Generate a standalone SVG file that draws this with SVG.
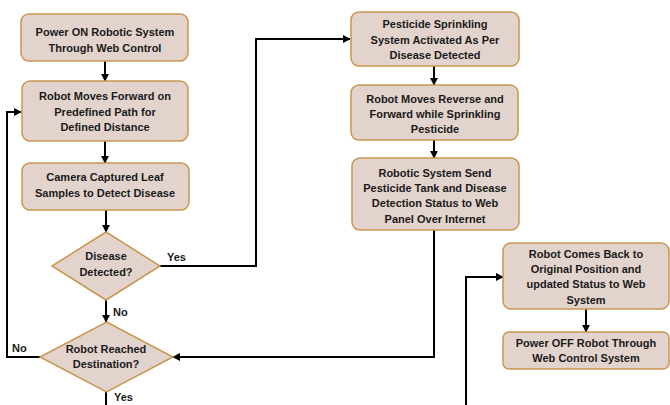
<svg xmlns="http://www.w3.org/2000/svg" width="670" height="405" viewBox="0 0 670 405">
<defs>
<marker id="ah" viewBox="0 0 10 10" refX="9" refY="5" markerWidth="4" markerHeight="4" orient="auto" markerUnits="strokeWidth">
<path d="M0,0 L10,5 L0,10 z" fill="#000"/>
</marker>
<style>
.box{fill:#e3d3cd;stroke:#c8964f;stroke-width:1.5}
.t{font-family:"Liberation Sans",Arial,sans-serif;font-weight:bold;font-size:11px;fill:#1a1a1a;text-anchor:middle}
.l{font-family:"Liberation Sans",Arial,sans-serif;font-weight:bold;font-size:11px;fill:#1a1a1a}
.c{fill:none;stroke:#000;stroke-width:2;marker-end:url(#ah)}
.cn{fill:none;stroke:#000;stroke-width:2}
</style>
</defs>
<rect width="670" height="405" fill="#fff"/>
<g id="connectors">
<path class="c" d="M105,61 V81"/>
<path class="c" d="M105,141 V163"/>
<path class="c" d="M106,210 V232"/>
<path class="c" d="M106,300 V322"/>
<path class="c" d="M160,266 H256 V39 H350"/>
<path class="c" d="M434,66 V85"/>
<path class="c" d="M434,140 V158"/>
<path class="c" d="M434,230 V357 H173"/>
<path class="c" d="M40,357 H7 V112 H21"/>
<path class="cn" d="M106,392 V405"/>
<path class="c" d="M466,405 V277 H503"/>
<path class="c" d="M586,309 V332"/>
</g>
<g id="labels">
<text class="l" x="167" y="261">Yes</text>
<text class="l" x="113" y="316">No</text>
<text class="l" x="12" y="352">No</text>
<text class="l" x="114" y="401">Yes</text>
</g>
<g id="n1">
<rect class="box" x="21" y="14" width="167" height="47" rx="8"/>
<text class="t" x="105" y="36">Power ON Robotic System</text>
<text class="t" x="105" y="52">Through  Web Control</text>
</g>
<g id="n2">
<rect class="box" x="22" y="81" width="166" height="60" rx="8"/>
<text class="t" x="105" y="100">Robot Moves Forward on</text>
<text class="t" x="105" y="116">Predefined Path for</text>
<text class="t" x="105" y="131">Defined Distance</text>
</g>
<g id="n3">
<rect class="box" x="22" y="163" width="167" height="47" rx="8"/>
<text class="t" x="105" y="181">Camera Captured  Leaf</text>
<text class="t" x="105" y="197">Samples to Detect Disease</text>
</g>
<g id="d1">
<path class="box" d="M106,232 L160,266 L106,300 L52,266 Z"/>
<text class="t" x="106" y="260">Disease</text>
<text class="t" x="106" y="276">Detected?</text>
</g>
<g id="d2">
<path class="box" d="M106.5,322 L173,357 L106.5,392 L40,357 Z"/>
<text class="t" x="106" y="353">Robot Reached</text>
<text class="t" x="106" y="368">Destination?</text>
</g>
<g id="n4">
<rect class="box" x="351" y="12" width="168" height="54" rx="8"/>
<text class="t" x="435" y="28">Pesticide Sprinkling</text>
<text class="t" x="435" y="44">System Activated As Per</text>
<text class="t" x="435" y="59">Disease Detected</text>
</g>
<g id="n5">
<rect class="box" x="351" y="85" width="167" height="55" rx="8"/>
<text class="t" x="435" y="103">Robot Moves Reverse and</text>
<text class="t" x="435" y="118">Forward while Sprinkling</text>
<text class="t" x="435" y="133">Pesticide</text>
</g>
<g id="n6">
<rect class="box" x="352" y="158" width="167" height="72" rx="8"/>
<text class="t" x="435" y="177">Robotic System Send</text>
<text class="t" x="435" y="192">Pesticide Tank and Disease</text>
<text class="t" x="435" y="207">Detection Status to Web</text>
<text class="t" x="435" y="223">Panel Over Internet</text>
</g>
<g id="n7">
<rect class="box" x="503" y="243" width="166" height="66" rx="8"/>
<text class="t" x="586" y="258">Robot Comes Back to</text>
<text class="t" x="586" y="273">Original  Position  and</text>
<text class="t" x="586" y="288">updated  Status to Web</text>
<text class="t" x="586" y="304">System</text>
</g>
<g id="n8">
<rect class="box" x="503" y="332" width="166" height="37" rx="6"/>
<text class="t" x="586" y="347">Power OFF Robot Through</text>
<text class="t" x="586" y="362">Web Control System</text>
</g>
</svg>
